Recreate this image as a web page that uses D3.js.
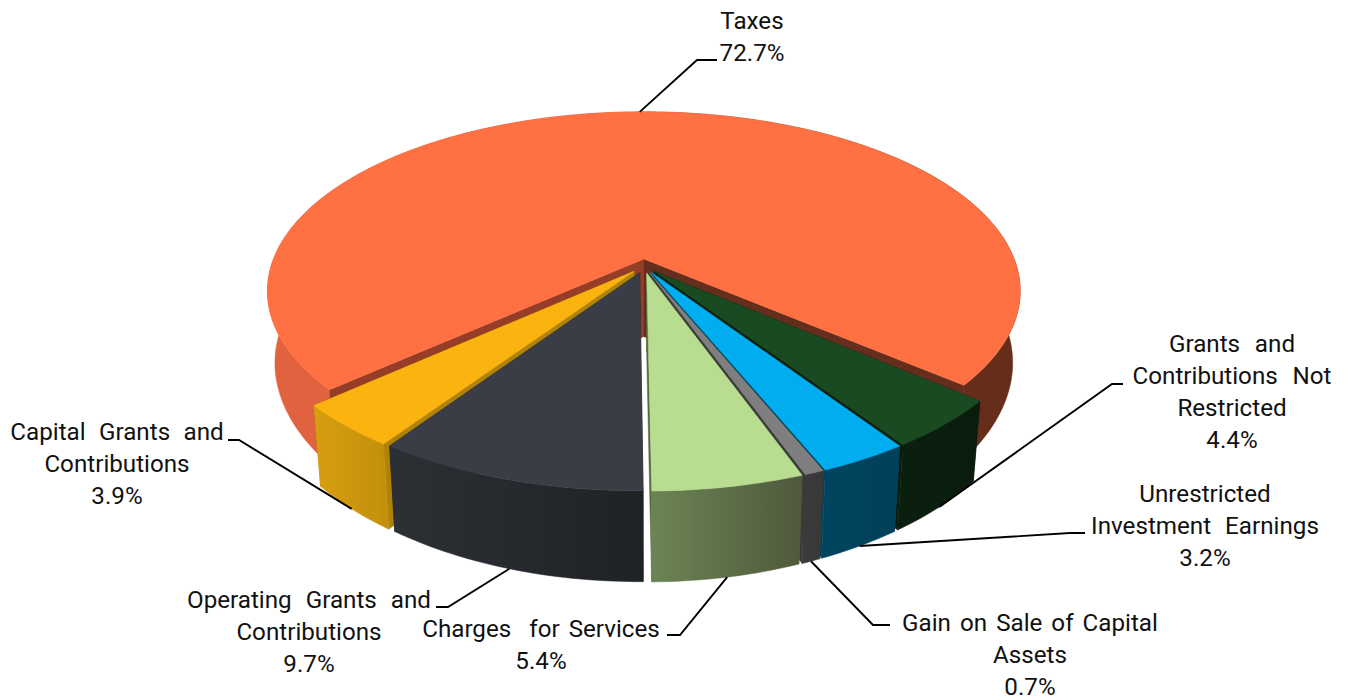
<!DOCTYPE html>
<html>
<head>
<meta charset="utf-8">
<title>Revenue by source</title>
<script src="https://cdn.jsdelivr.net/npm/d3@7/dist/d3.min.js"></script>
<style>
  html, body { margin: 0; padding: 0; background: #fff; }
  svg { display: block; }
  text { font-family: Roboto, sans-serif; font-size: 24.2px; fill: #111; }
</style>
</head>
<body>
<script>
// Revenue shares, clockwise from the large Taxes slice
const categories = ["Taxes", "Grants and Contributions Not Restricted", "Unrestricted Investment Earnings",
  "Gain on Sale of Capital Assets", "Charges for Services", "Operating Grants and Contributions",
  "Capital Grants and Contributions"];
const shares = [72.7, 4.4, 3.2, 0.7, 5.4, 9.7, 3.9];

// Wrapped label text for each category
const labelLines = [
  ["Taxes"],
  ["Grants  and", "Contributions  Not", "Restricted"],
  ["Unrestricted", "Investment  Earnings"],
  ["Gain on Sale of Capital", "Assets"],
  ["Charges  for Services"],
  ["Operating  Grants  and", "Contributions"],
  ["Capital  Grants  and", "Contributions"]
];

// Extra space between words in each label, in pixels
const wordGaps = [0, 1.4, 1, 3, 3, 1, 0.7];

// Surface colours per slice: top face, outer wall left/right, radial wall
const topColors = ["#ff7043", "#1a4a22", "#00aeef", "#7f7f7f", "#b8dc90", "#3a3d45", "#fbb40f"];
const wallLeft  = ["#e0623f", "#0a1f0e", "#00455f", "#3a3a3a", "#6c8455", "#2c2f34", "#d89e10"];
const wallRight = ["#662d1a", "#0a1d0d", "#004059", "#383838", "#4e593b", "#1f2225", "#c4900b"];
const edgeColors = ["#662d1a", "#0a1d0d", "#00405a", "#3a3a3a", "#55683f", "#24262b", "#b08208"];

// Label placement: centre x, first baseline, leader elbow and leader end
const labelLayout = [
  { x: 752,  y: 29,  elbow: [697, 60],   end: [717, 60] },
  { x: 1232, y: 352, elbow: [1112, 384], end: [1123, 384] },
  { x: 1205, y: 502, elbow: [1070, 533], end: [1085, 533] },
  { x: 1030, y: 630.5, elbow: [873, 625],  end: [890, 625] },
  { x: 541,  y: 637, elbow: [680, 635],  end: [667, 635] },
  { x: 309,  y: 608, elbow: [448, 607],  end: [436, 607] },
  { x: 117,  y: 440, elbow: [239, 440],  end: [228, 440] }
];
const lineHeight = 32;

const width = 1353, height = 700;
const toRad = d => d * Math.PI / 180;

// Perspective projection of the pie plane; u points right, v points away from the viewer
const view = { x0: 644, y0: 266, a: 373, b: 176, q: 0.18, depth: 78, power: 0.74, taper: 0.02 };
function project(u, v, z) {
  const w = 1 + view.q * v;
  const px = view.a * u / w * (1 - view.taper * z);
  const drop = view.depth * Math.pow(1 / w, view.power) * (1 - 0.1 * u * u);
  return [view.x0 + px, view.y0 - view.b * v / w + z * drop];
}

const explode = 0.04;
const pie = d3.pie().sort(null).value(d => d)
  .startAngle(toRad(-131.6)).endAngle(toRad(228.4));
const slices = pie(shares).map((s, i) => {
  const mid = (s.startAngle + s.endAngle) / 2;
  return { ...s, i, mid, ox: explode * Math.sin(mid), oy: explode * Math.cos(mid) };
});

const rim = (s, a, z) => project(s.ox + Math.sin(a), s.oy + Math.cos(a), z);
const apex = (s, z) => project(s.ox, s.oy, z);
const arcAngles = s => {
  const n = Math.max(4, Math.ceil((s.endAngle - s.startAngle) / toRad(1)));
  return d3.range(n + 1).map(k => s.startAngle + (s.endAngle - s.startAngle) * k / n);
};
const poly = d3.line();

const svg = d3.select("body").append("svg").attr("width", width).attr("height", height);
const defs = svg.append("defs");

// Outer walls shade from one side of the slice to the other
slices.forEach(s => {
  const pts = arcAngles(s).map(a => rim(s, a, 0)[0]);
  const g = defs.append("linearGradient").attr("id", "wall" + s.i)
    .attr("gradientUnits", "userSpaceOnUse")
    .attr("x1", d3.min(pts)).attr("x2", d3.max(pts)).attr("y1", 0).attr("y2", 0);
  g.append("stop").attr("offset", s.i === 0 ? 0.12 : 0).attr("stop-color", wallLeft[s.i]);
  g.append("stop").attr("offset", s.i === 0 ? 0.88 : 1).attr("stop-color", wallRight[s.i]);
});

function drawSlice(s) {
  const g = svg.append("g").attr("class", "slice").attr("data-name", categories[s.i]);
  const angles = arcAngles(s);
  const radialWall = a => [apex(s, 0), rim(s, a, 0), rim(s, a, 1), apex(s, 1)];
  const outer = angles.map(a => rim(s, a, 0)).concat(angles.slice().reverse().map(a => rim(s, a, 1)));
  const top = [apex(s, 0)].concat(angles.map(a => rim(s, a, 0)));
  // A hairline stroke closes the antialiasing seam where two faces of a slice meet
  const face = (points, color) => g.append("path").attr("d", poly(points) + "Z")
    .attr("fill", color).attr("stroke", color).attr("stroke-width", 0.5);

  if (s.i === 0) {
    // The large slice wraps around the others, so its cut faces come after its outer wall
    face(outer, `url(#wall${s.i})`);
    face(radialWall(s.startAngle), "#953d26");
    face(radialWall(s.endAngle), "#652d1b");
  } else {
    face(radialWall(s.startAngle), edgeColors[s.i]);
    face(radialWall(s.endAngle), edgeColors[s.i]);
    face(outer, `url(#wall${s.i})`);
  }
  face(top, topColors[s.i]);
}

// Paint from the back of the pie toward the viewer
[0, 6, 1, 2, 3, 4, 5].forEach(i => drawSlice(slices[i]));

// Leader lines run from each slice's rim to a short horizontal run beside its label
slices.forEach(s => {
  const start = rim(s, s.mid, s.i === 0 ? 0 : 1);
  const lay = labelLayout[s.i];
  svg.append("path").attr("d", poly([start, lay.elbow, lay.end]))
    .attr("fill", "none").attr("stroke", "#000").attr("stroke-width", 1.9);
});

// Category names with the percentage as the last line
slices.forEach(s => {
  const lay = labelLayout[s.i];
  const lines = labelLines[s.i].concat(s.value.toFixed(1) + "%");
  svg.append("g").selectAll("text").data(lines).join("text")
    .attr("x", lay.x).attr("y", (d, k) => lay.y + k * lineHeight)
    .attr("text-anchor", "middle")
    .style("white-space", "pre").style("word-spacing", wordGaps[s.i] + "px").text(d => d);
});
</script>
</body>
</html>
